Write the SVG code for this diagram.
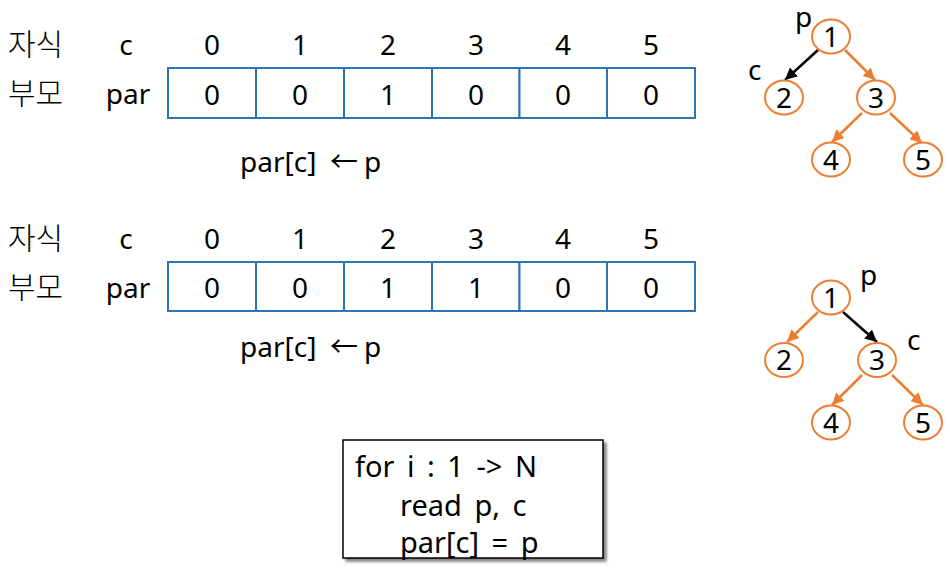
<svg xmlns="http://www.w3.org/2000/svg" width="950" height="577" viewBox="0 0 950 577">
<style>
text{font-family:"Noto Sans","Open Sans","Noto Sans CJK KR",sans-serif;font-size:28px;fill:#000}
.kr{font-family:"Noto Sans CJK KR","Noto Sans",sans-serif;font-size:30px;font-weight:300}
.m{text-anchor:middle}
.code{font-size:29px;word-spacing:5px}
.cell{fill:#fff;stroke:#2E75B6;stroke-width:2}
.node ellipse{fill:#fff;stroke:#ED7D31;stroke-width:2}
.eo{stroke:#ED7D31;stroke-width:2.5;fill:none}
.eb{stroke:#000;stroke-width:2.5;fill:none}
</style>
<defs>
<marker id="ao" markerUnits="userSpaceOnUse" markerWidth="14" markerHeight="12" refX="12" refY="6" orient="auto"><path d="M0,0 L12,6 L0,12 Z" fill="#ED7D31"/></marker>
<marker id="ab" markerUnits="userSpaceOnUse" markerWidth="14" markerHeight="12" refX="12" refY="6" orient="auto"><path d="M0,0 L12,6 L0,12 Z" fill="#000"/></marker>
<filter id="sh" x="-10%" y="-10%" width="130%" height="130%"><feGaussianBlur in="SourceAlpha" stdDeviation="1.5"/><feOffset dx="3" dy="3"/><feComponentTransfer><feFuncA type="linear" slope="0.5"/></feComponentTransfer><feMerge><feMergeNode/><feMergeNode in="SourceGraphic"/></feMerge></filter>
</defs>

<g id="table1">
<text class="kr" x="8" y="55">자식</text>
<text class="kr" x="8" y="104">부모</text>
<text class="m" x="126" y="55">c</text>
<text class="m" x="128" y="104">par</text>
<g class="m">
<text x="212" y="55">0</text><text x="300" y="55">1</text><text x="388" y="55">2</text><text x="476" y="55">3</text><text x="563" y="55">4</text><text x="651" y="55">5</text>
</g>
<rect class="cell" x="168" y="68" width="88" height="50"/>
<rect class="cell" x="256" y="68" width="88" height="50"/>
<rect class="cell" x="344" y="68" width="88" height="50"/>
<rect class="cell" x="432" y="68" width="87.5" height="50"/>
<rect class="cell" x="519.5" y="68" width="87.5" height="50"/>
<rect class="cell" x="607" y="68" width="88" height="50"/>
<g class="m">
<text x="212" y="105">0</text><text x="300" y="105">0</text><text x="388" y="105">1</text><text x="476" y="105">0</text><text x="563" y="105">0</text><text x="651" y="105">0</text>
</g>
<text x="240" y="172">par[c]<tspan x="330">←</tspan><tspan x="364">p</tspan></text>
</g>

<g id="table2">
<text class="kr" x="8" y="249">자식</text>
<text class="kr" x="8" y="298">부모</text>
<text class="m" x="126" y="249">c</text>
<text class="m" x="128" y="298">par</text>
<g class="m">
<text x="212" y="249">0</text><text x="300" y="249">1</text><text x="388" y="249">2</text><text x="476" y="249">3</text><text x="563" y="249">4</text><text x="651" y="249">5</text>
</g>
<rect class="cell" x="168" y="262" width="88" height="49"/>
<rect class="cell" x="256" y="262" width="88" height="49"/>
<rect class="cell" x="344" y="262" width="88" height="49"/>
<rect class="cell" x="432" y="262" width="87.5" height="49"/>
<rect class="cell" x="519.5" y="262" width="87.5" height="49"/>
<rect class="cell" x="607" y="262" width="88" height="49"/>
<g class="m">
<text x="212" y="298">0</text><text x="300" y="298">0</text><text x="388" y="298">1</text><text x="476" y="298">1</text><text x="563" y="298">0</text><text x="651" y="298">0</text>
</g>
<text x="240" y="357">par[c]<tspan x="330">←</tspan><tspan x="364">p</tspan></text>
</g>

<g id="connectors">
<path class="eb" d="M818,50 L785,80" marker-end="url(#ab)"/>
<path class="eo" d="M845,50 L875,80" marker-end="url(#ao)"/>
<path class="eo" d="M862,113 L832,142" marker-end="url(#ao)"/>
<path class="eo" d="M890,113 L922,143" marker-end="url(#ao)"/>
<path class="eo" d="M818,312 L787,342" marker-end="url(#ao)"/>
<path class="eb" d="M843,312 L877,342" marker-end="url(#ab)"/>
<path class="eo" d="M862,375 L832,405" marker-end="url(#ao)"/>
<path class="eo" d="M892,375 L923,405" marker-end="url(#ao)"/>
</g>

<g id="t1n1" class="node"><ellipse cx="831" cy="36.5" rx="19" ry="17"/><text class="m" x="831" y="46.5">1</text></g>
<g id="t1n2" class="node"><ellipse cx="784" cy="97.5" rx="19" ry="17"/><text class="m" x="784" y="107.5">2</text></g>
<g id="t1n3" class="node"><ellipse cx="876" cy="97.5" rx="19" ry="17"/><text class="m" x="876" y="107.5">3</text></g>
<g id="t1n4" class="node"><ellipse cx="831" cy="159.5" rx="19" ry="17"/><text class="m" x="831" y="169.5">4</text></g>
<g id="t1n5" class="node"><ellipse cx="923" cy="159.5" rx="19" ry="17"/><text class="m" x="923" y="169.5">5</text></g>
<text x="795" y="27">p</text>
<text x="748" y="80">c</text>

<g id="t2n1" class="node"><ellipse cx="831" cy="297.5" rx="19" ry="17"/><text class="m" x="831" y="307.5">1</text></g>
<g id="t2n2" class="node"><ellipse cx="784" cy="360" rx="19" ry="17"/><text class="m" x="784" y="370">2</text></g>
<g id="t2n3" class="node"><ellipse cx="877" cy="360" rx="19" ry="17"/><text class="m" x="877" y="370">3</text></g>
<g id="t2n4" class="node"><ellipse cx="831" cy="422.5" rx="19" ry="17"/><text class="m" x="831" y="432.5">4</text></g>
<g id="t2n5" class="node"><ellipse cx="923" cy="422.5" rx="19" ry="17"/><text class="m" x="923" y="432.5">5</text></g>
<text x="860" y="285">p</text>
<text x="907" y="350">c</text>

<g id="code">
<rect x="343" y="440" width="260" height="118" fill="#fff" stroke="#000" stroke-width="1.5" filter="url(#sh)"/>
<text class="code" x="355" y="477">for i : 1 -&gt; N</text>
<text class="code" x="400" y="516">read p, c</text>
<text class="code" x="400" y="553">par[c] = p</text>
</g>
</svg>
